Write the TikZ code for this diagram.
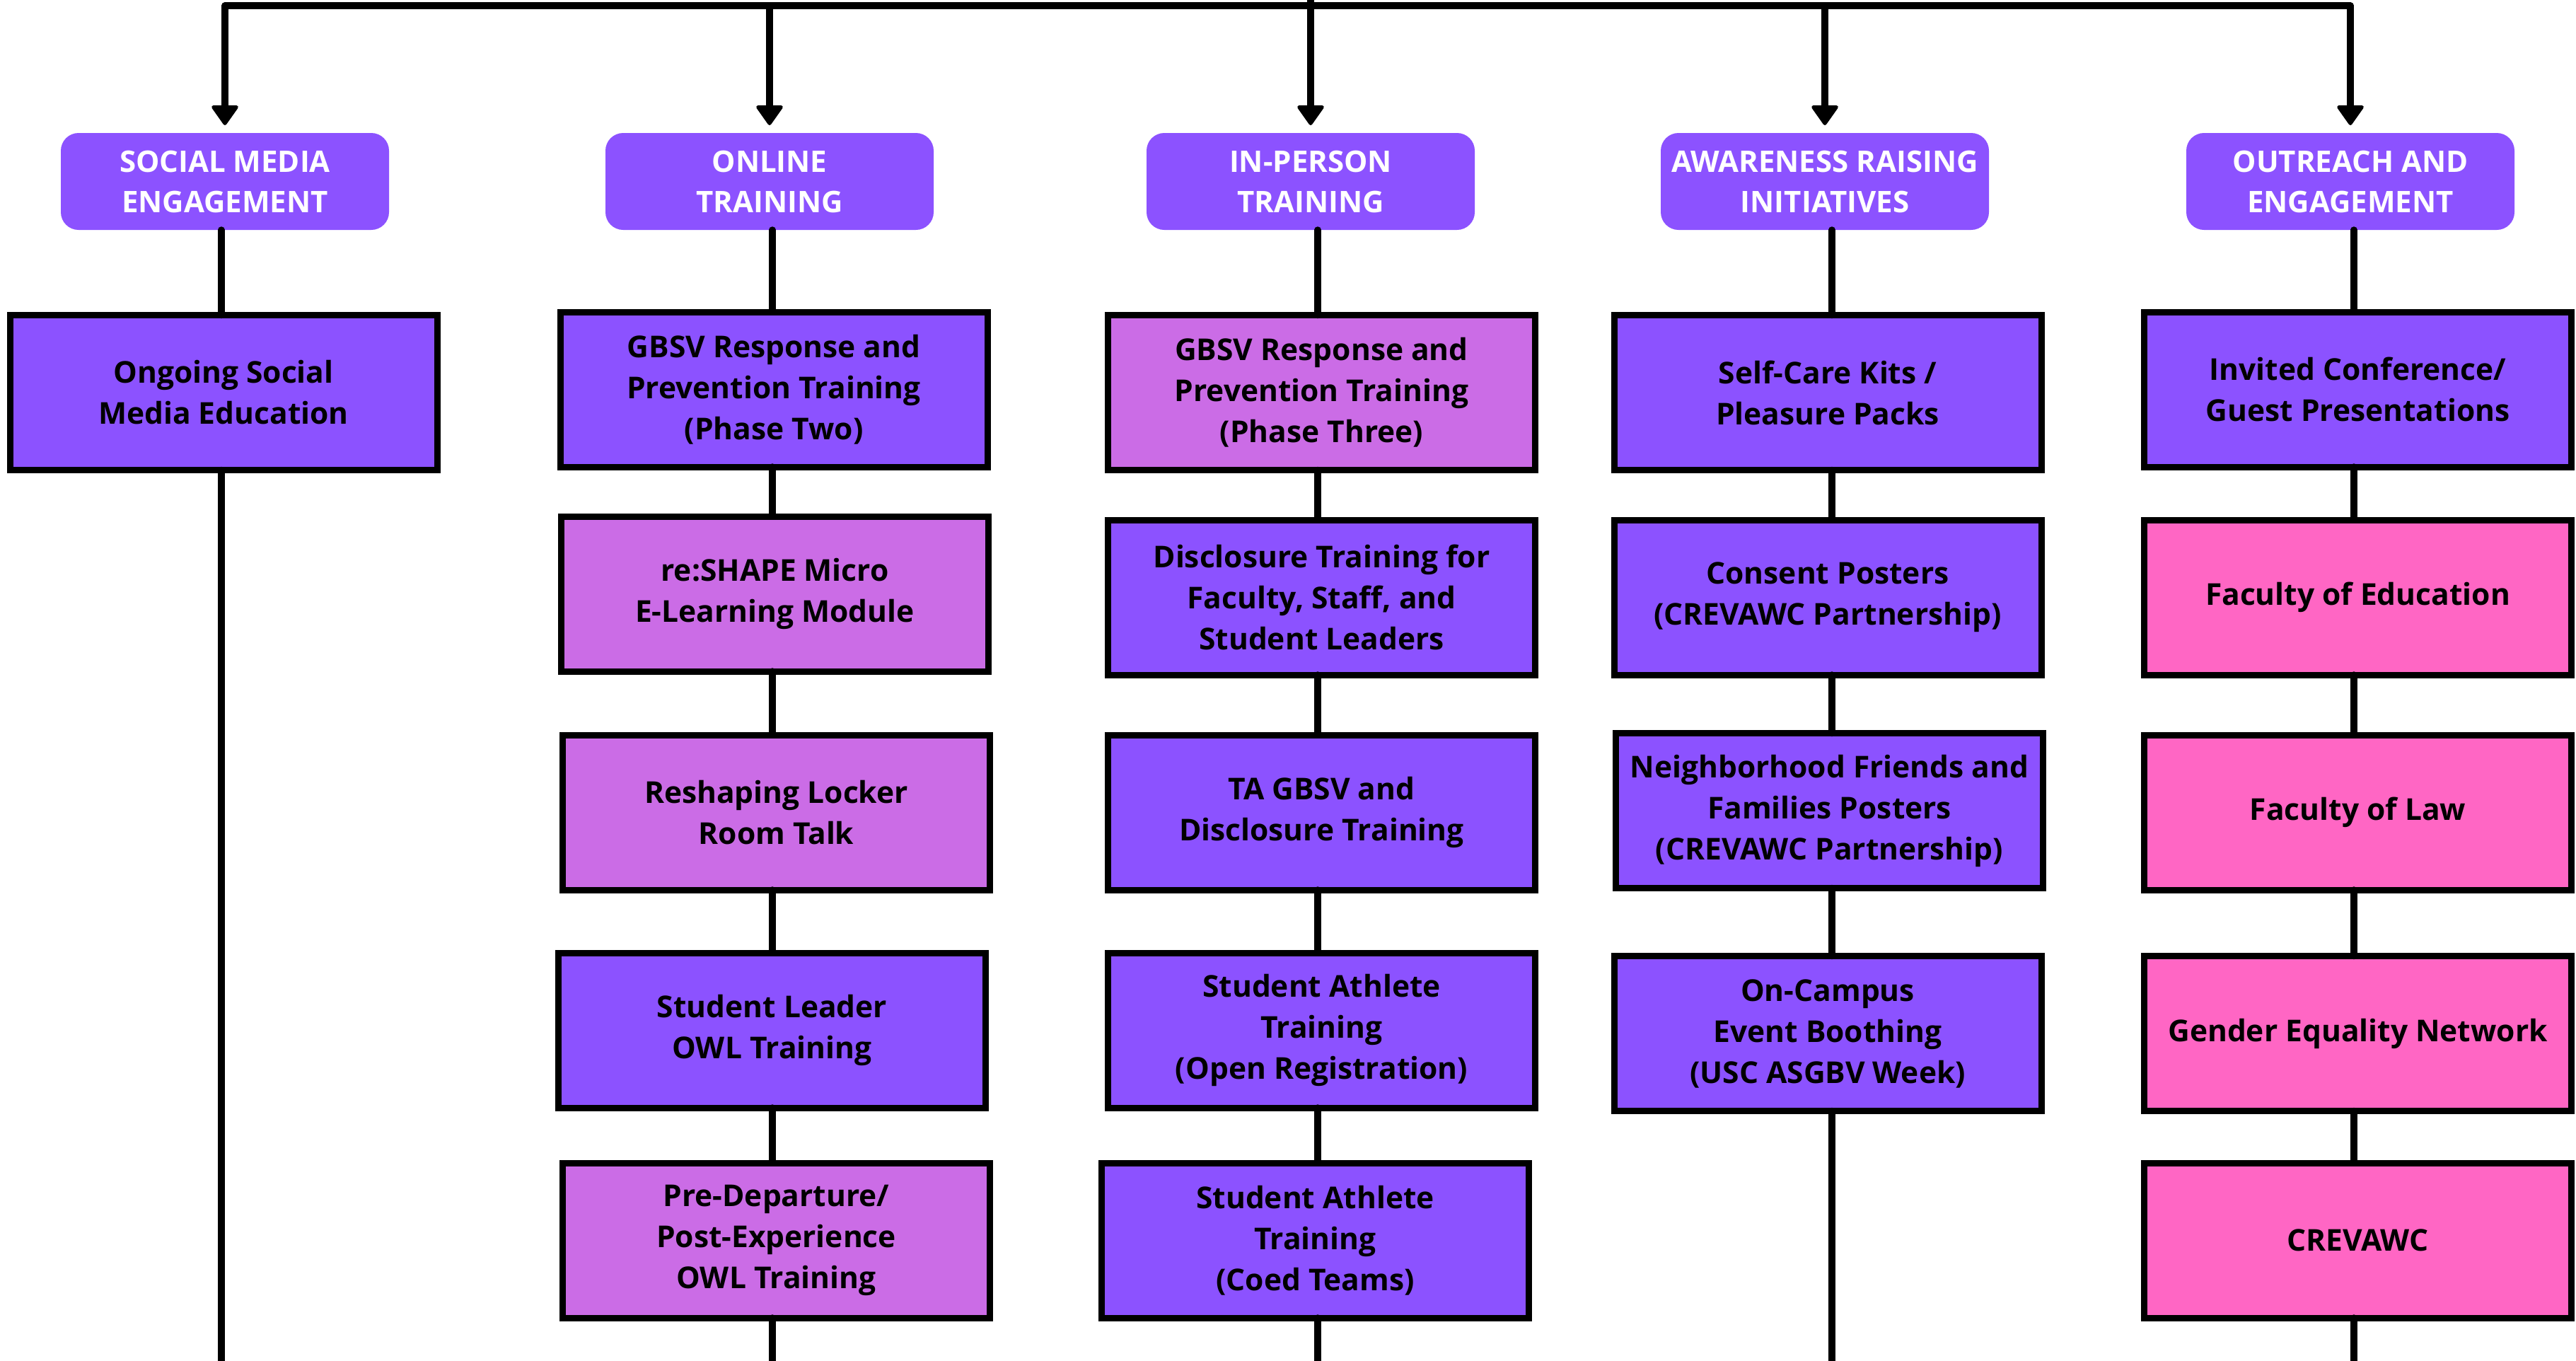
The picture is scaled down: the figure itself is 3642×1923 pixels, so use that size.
\documentclass[tikz,border=0pt]{standalone}
\usepackage{fontspec}
\setmainfont{Open Sans}
\usetikzlibrary{arrows.meta}
\definecolor{vio}{HTML}{8C52FF}
\definecolor{orch}{HTML}{CB6CE6}
\definecolor{hpink}{HTML}{FF66C4}
\begin{document}
\begin{tikzpicture}[x=1pt,y=-1pt,
 conn/.style={line width=9.5pt, line cap=round, line join=round},
 arr/.style={conn, -{Triangle[width=41pt,length=30pt,line width=5pt,round]}, shorten >=11pt},
 hdr/.style={fill=vio, rounded corners=25pt, minimum width=464pt, minimum height=137pt, text=white, font=\fontsize{42}{57}\selectfont\bfseries, align=center, inner sep=0pt, outer sep=0pt},
 item/.style={draw=black, line width=9pt, minimum width=604pt, minimum height=219pt, font=\fontsize{42.5}{58}\selectfont\bfseries, align=center, inner sep=0pt, outer sep=0pt, text=black},
]
\useasboundingbox (0,0) rectangle (3642,1923);
\clip (0,0) rectangle (3642,1923);
% column line positions
\coordinate (c1) at (313,0);
\coordinate (c2) at (1092,0);
\coordinate (c3) at (1863,0);
\coordinate (c4) at (2590,0);
\coordinate (c5) at (3328,0);
\coordinate (bar) at (0,8);
\coordinate (root) at (1853,-40);
% headers
\node[hdr] (h1) at (318,256.5) {SOCIAL MEDIA\\ENGAGEMENT};
\node[hdr] (h2) at (1088,256.5) {ONLINE\\TRAINING};
\node[hdr] (h3) at (1853,256.5) {IN-PERSON\\TRAINING};
\node[hdr] (h4) at (2580,256.5) {AWARENESS RAISING\\INITIATIVES};
\node[hdr] (h5) at (3323,256.5) {OUTREACH AND\\ENGAGEMENT};
% column 1
\node[item, fill=vio] (b11) at (316,555) {Ongoing Social\\Media Education};
% column 2
\node[item, fill=vio]  (b21) at (1094,550.5) {GBSV Response and\\Prevention Training\\(Phase Two)};
\node[item, fill=orch] (b22) at (1095.5,839.5) {re:SHAPE Micro\\E-Learning Module};
\node[item, fill=orch] (b23) at (1097.5,1148.5) {Reshaping Locker\\Room Talk};
\node[item, fill=vio]  (b24) at (1091.5,1456.5) {Student Leader\\OWL Training};
\node[item, fill=orch] (b25) at (1097.5,1753.5) {Pre-Departure/\\Post-Experience\\OWL Training};
% column 3
\node[item, fill=orch] (b31) at (1868.5,555) {GBSV Response and\\Prevention Training\\(Phase Three)};
\node[item, fill=vio]  (b32) at (1868.5,844.5) {Disclosure Training for\\Faculty, Staff, and\\Student Leaders};
\node[item, fill=vio]  (b33) at (1868.5,1148.5) {TA GBSV and\\Disclosure Training};
\node[item, fill=vio]  (b34) at (1868.5,1456.5) {Student Athlete\\Training\\(Open Registration)};
\node[item, fill=vio]  (b35) at (1859.5,1753.5) {Student Athlete\\Training\\(Coed Teams)};
% column 4
\node[item, fill=vio] (b41) at (2584,555) {Self-Care Kits /\\Pleasure Packs};
\node[item, fill=vio] (b42) at (2584,844.5) {Consent Posters\\(CREVAWC Partnership)};
\node[item, fill=vio] (b43) at (2586.5,1146) {Neighborhood Friends and\\Families Posters\\(CREVAWC Partnership)};
\node[item, fill=vio] (b44) at (2584,1461) {On-Campus\\Event Boothing\\(USC ASGBV Week)};
% column 5
\node[item, fill=vio]   (b51) at (3333.5,550.5) {Invited Conference/\\Guest Presentations};
\node[item, fill=hpink] (b52) at (3333.5,844.5) {Faculty of Education};
\node[item, fill=hpink] (b53) at (3333.5,1148.5) {Faculty of Law};
\node[item, fill=hpink] (b54) at (3333.5,1461) {Gender Equality Network};
\node[item, fill=hpink] (b55) at (3333.5,1753.5) {CREVAWC};
% bottom ends
\coordinate (e1) at (313,1960);
\coordinate (e2) at (1092,1960);
\coordinate (e3) at (1863,1960);
\coordinate (e4) at (2590,1960);
\coordinate (e5) at (3328,1960);
% top bar and arrows
\draw[conn] (h1.north |- bar) -- (h5.north |- bar);
\draw[arr] (root) -- (h3.north);
\draw[arr] (h1.north |- bar) -- (h1.north);
\draw[arr] (h2.north |- bar) -- (h2.north);
\draw[arr] (h4.north |- bar) -- (h4.north);
\draw[arr] (h5.north |- bar) -- (h5.north);
% column 1 connectors
\draw[conn] (h1.south -| c1) -- (b11.north -| c1);
\draw[conn] (b11.south -| c1) -- (e1);
% column 2
\draw[conn] (h2.south -| c2) -- (b21.north -| c2);
\draw[conn] (b21.south -| c2) -- (b22.north -| c2);
\draw[conn] (b22.south -| c2) -- (b23.north -| c2);
\draw[conn] (b23.south -| c2) -- (b24.north -| c2);
\draw[conn] (b24.south -| c2) -- (b25.north -| c2);
\draw[conn] (b25.south -| c2) -- (e2);
% column 3
\draw[conn] (h3.south -| c3) -- (b31.north -| c3);
\draw[conn] (b31.south -| c3) -- (b32.north -| c3);
\draw[conn] (b32.south -| c3) -- (b33.north -| c3);
\draw[conn] (b33.south -| c3) -- (b34.north -| c3);
\draw[conn] (b34.south -| c3) -- (b35.north -| c3);
\draw[conn] (b35.south -| c3) -- (e3);
% column 4
\draw[conn] (h4.south -| c4) -- (b41.north -| c4);
\draw[conn] (b41.south -| c4) -- (b42.north -| c4);
\draw[conn] (b42.south -| c4) -- (b43.north -| c4);
\draw[conn] (b43.south -| c4) -- (b44.north -| c4);
\draw[conn] (b44.south -| c4) -- (e4);
% column 5
\draw[conn] (h5.south -| c5) -- (b51.north -| c5);
\draw[conn] (b51.south -| c5) -- (b52.north -| c5);
\draw[conn] (b52.south -| c5) -- (b53.north -| c5);
\draw[conn] (b53.south -| c5) -- (b54.north -| c5);
\draw[conn] (b54.south -| c5) -- (b55.north -| c5);
\draw[conn] (b55.south -| c5) -- (e5);
\end{tikzpicture}
\end{document}
